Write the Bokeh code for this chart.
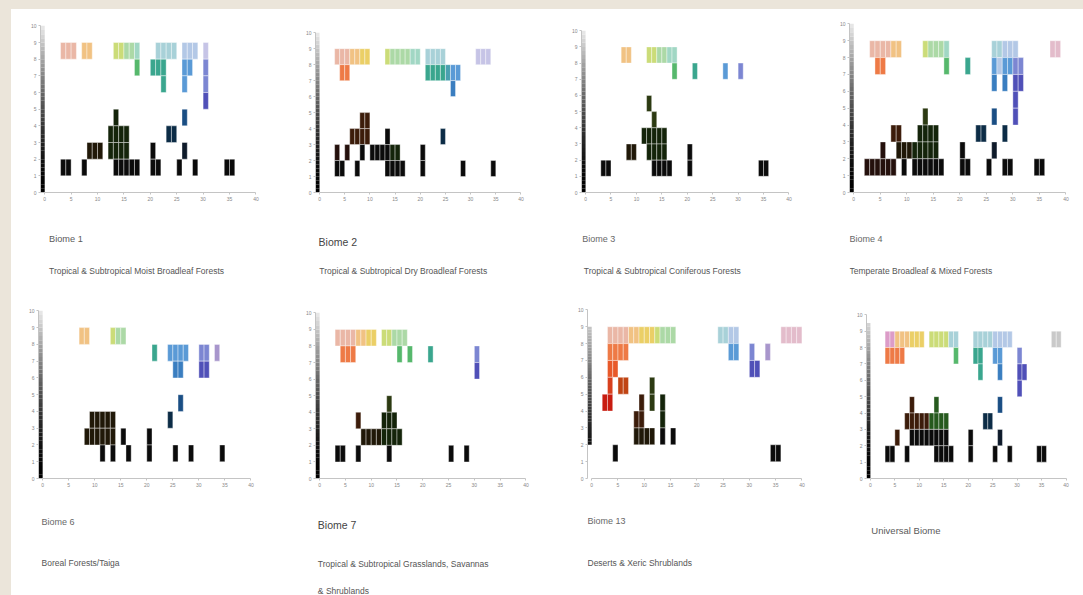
from bokeh.plotting import figure
from bokeh.models import FixedTicker, ColumnDataSource, Range1d
from bokeh.core.properties import value
from bokeh.layouts import row, column
from bokeh.embed import file_html
from bokeh.resources import INLINE

# ---------------- data ----------------
X_TICKS = [0, 5, 10, 15, 20, 25, 30, 35, 40]
Y_TICKS = [0, 1, 2, 3, 4, 5, 6, 7, 8, 9, 10]

TITLES = ["Biome 1", "Biome 2", "Biome 3", "Biome 4",
          "Biome 6", "Biome 7", "Biome 13", "Universal Biome"]
SUBTITLES = [
    ["Tropical & Subtropical Moist Broadleaf Forests"],
    ["Tropical & Subtropical Dry Broadleaf Forests"],
    ["Tropical & Subtropical Coniferous Forests"],
    ["Temperate Broadleaf & Mixed Forests"],
    ["Boreal Forests/Taiga"],
    ["Tropical & Subtropical Grasslands, Savannas", "& Shrublands"],
    ["Deserts & Xeric Shrublands"],
    [],
]

# cell runs: (row y, first column x, codes) ; '.' = empty cell
CELLS_B1 = [
    (8, 3, "aaa.bb....ddeef...gggg.hhh.i"),
    (7, 17, "m..nnn...uu..v"),
    (6, 22, "n...u...v"),
    (5, 30, "V"),
    (4, 13, "G"), (4, 26, "E"),
    (3, 12, "GGGG"), (3, 23, "DD"),
    (2, 8, "NNN.GGGG....K.....F"),
    (1, 3, "KK..K.....KKKKK..KK...K..K.....KK"),
]
CELLS_B2 = [
    (8, 3, "aaabbcc...deeeeff.gggg......iii"),
    (7, 4, "oo"), (7, 21, "nnnntuu"),
    (6, 26, "U"),
    (4, 8, "BB"),
    (3, 6, "BBBB"), (3, 13, "K"), (3, 24, "D"),
    (2, 3, "M.M..K.KKKKGG....K"),
    (1, 3, "KK..K.....KKKK...K.......K.....K"),
]
CELLS_B3 = [
    (8, 7, "bb...ddeeff"),
    (7, 17, "m...n.....u..v"),
    (5, 12, "H"),
    (4, 13, "H"),
    (3, 11, "GGGGG"),
    (2, 8, "NN..GGGG....K"),
    (1, 3, "KK"), (1, 13, "KKKK...K"), (1, 34, "KK"),
]
CELLS_B4 = [
    (8, 3, "aaaabb....deeef........gghhh......jj"),
    (7, 4, "oo"), (7, 17, "m...n....uhuuvv"),
    (6, 26, "U.U.VV"),
    (5, 30, "V"),
    (4, 13, "H"), (4, 26, "E...V"),
    (3, 7, "BB...GGGG"), (3, 23, "DD...D"),
    (2, 5, "M..NNNGGGGG....K.....F"),
    (1, 2, "MMMMMM.K.KKKKKK...KK...K..KK....KK"),
]
CELLS_B6 = [
    (8, 7, "bb....dee"),
    (7, 21, "n..uuuu..vv.w"),
    (6, 25, "UU...VV"),
    (4, 26, "E"),
    (3, 9, "NNNNN"), (3, 24, "D"),
    (2, 8, "NNNNNN"), (2, 15, "K"), (2, 20, "K"),
    (1, 11, "K.K..K...K....K..K.....K"),
]
CELLS_B7 = [
    (8, 3, "aaaabbcc.ddeee"),
    (7, 4, "ooo"), (7, 15, "m.m...n........v"),
    (6, 30, "V"),
    (4, 13, "H"),
    (3, 7, "B"), (3, 12, "GGG"),
    (2, 8, "NNNNGGGG"),
    (1, 3, "KK..K.....K"), (1, 25, "K..K"),
]
CELLS_B13 = [
    (8, 3, "aaaabbcccdeee........gghh........jjjj"),
    (7, 3, "oooo"), (7, 26, "uu..v..w"),
    (6, 3, "OO"), (6, 30, "VV"),
    (5, 3, "r.qq"), (5, 11, "H"),
    (4, 2, "RR"), (4, 9, "B.H.G"),
    (3, 8, "BB...G"),
    (2, 8, "NNNN.K.K"),
    (1, 4, "K"), (1, 34, "KK"),
]
CELLS_BU = [
    (8, 3, "llbbbccc.ddddgg...gggghhhh"), (8, 37, "kk"),
    (7, 3, "oooo"), (7, 17, "m...nn..uu...v"),
    (6, 22, "n...U...VV"),
    (5, 30, "V"),
    (4, 8, "B....Z"), (4, 26, "E"),
    (3, 7, "BBBBBZZZZ"), (3, 23, "DD"),
    (2, 5, "B..KKKKKKKK....K.....F"),
    (1, 3, "KK..K.....KKKK...K....K..K.....KK"),
]
ALL_CELLS = [CELLS_B1, CELLS_B2, CELLS_B3, CELLS_B4,
             CELLS_B6, CELLS_B7, CELLS_B13, CELLS_BU]

# grey scale strip extent on the y axis (low, high)
STRIPS = [(0, 10), (0, 10), (0, 10), (0, 10), (0, 10), (0, 10), (2, 9), (0, 9.5)]

# ---------------- styles ----------------
PALETTE = {
    'a': '#eab7a6', 'b': '#f1c283', 'c': '#ebcf66', 'd': '#cbdc78',
    'e': '#acd9a6', 'f': '#a1d7c4', 'g': '#a8d1d8', 'h': '#b3c8e6',
    'i': '#c6c4e6', 'j': '#e3bccb', 'k': '#c9c9c9', 'l': '#dc9cc8',
    'o': '#ee7a46', 'O': '#e8592a', 'r': '#d8401e', 'R': '#c81c10',
    'q': '#c04414', 'm': '#56b86c', 'n': '#3aa68e', 't': '#4aa0b0',
    'u': '#5a9ad6', 'U': '#3a7ec0', 'v': '#7c86d2', 'V': '#5050b8',
    'w': '#a896cc', 'K': '#0b0b0b', 'M': '#24100c', 'B': '#3c1c0a',
    'N': '#201808', 'G': '#14240a', 'H': '#2c3a12', 'D': '#0c2c46',
    'E': '#1a4e84', 'F': '#0e1a2a', 'Z': '#265a1e',
}

FONT = "Liberation Sans"
ROW_TOP = [9, 290]
PLOT_H = [203, 208]        # height of the chart part of each row
TEXT_H = [78, 97]          # height of the caption part of each row
# (row, page left, width, border l, border r, border t)
LAYOUT = [
    (0, 11, 279, 29, 33, 13),
    (0, 290, 270, 25, 38, 20),
    (0, 560, 268, 21, 38, 18),
    (0, 828, 255, 21, 16, 11),
    (1, 11, 279, 27, 38, 17),
    (1, 290, 270, 25, 33, 19),
    (1, 560, 275, 27, 32, 16),
    (1, 835, 248, 31, 16, 21),
]
FRAME_BOTTOM = [183, 188]  # frame bottom inside the chart part
CAPTION_SHIFT = -25        # horizontal correction of caption placement
# title (x, y, size, colour), subtitle lines (x, y) in page pixels
TITLE_POS = [(47, 238, 9.2, '#5a5a5a'), (319, 241, 10.5, '#444444'),
             (586, 238, 9, '#686868'), (853, 238, 9, '#686868'),
             (40, 521, 9, '#686868'), (318, 524, 10.5, '#444444'),
             (585, 520, 9, '#686868'), (866, 530, 9.5, '#5a5a5a')]
SUB_POS = [[(47, 270)], [(320, 270)], [(588, 270)], [(853, 270)],
           [(40, 562)], [(318, 563), (318, 590)], [(585, 562)], []]


def expand(runs):
    xs, ys, cs = [], [], []
    for y, x0, codes in runs:
        for k, ch in enumerate(codes):
            if ch != '.':
                xs.append(x0 + k)
                ys.append(y)
                cs.append(PALETTE[ch])
    return xs, ys, cs


def strip_colour(yc):
    t = max(0.0, min(1.0, yc / 10.0))
    g = int(round(235 * t ** 1.6))
    return "#%02x%02x%02x" % (g, g, g)


def make_chart(i):
    r, left, w, mbl, mbr, mbt = LAYOUT[i]
    h = PLOT_H[r]
    mbb = h - FRAME_BOTTOM[r]
    p = figure(width=w, height=h, x_range=(-0.8, 40.3), y_range=(0, 10.2),
               min_border_left=mbl, min_border_right=mbr,
               min_border_top=mbt, min_border_bottom=mbb,
               toolbar_location=None, tools="", output_backend="svg")
    p.background_fill_color = "white"
    p.border_fill_color = "white"
    p.outline_line_color = None
    p.xgrid.visible = False
    p.ygrid.visible = False

    lo, hi = STRIPS[i]
    n = 40
    edges = [lo + (hi - lo) * k / n for k in range(n + 1)]
    cols = [strip_colour((edges[k] + edges[k + 1]) / 2) for k in range(n)]
    p.quad(left=-0.8, right=0.0, bottom=edges[:-1], top=edges[1:],
           fill_color=cols, line_color=None)

    xs, ys, cs = expand(ALL_CELLS[i])
    src = ColumnDataSource(dict(l=xs, r=[x + 1 for x in xs],
                                b=ys, t=[y + 1 for y in ys], c=cs))
    p.quad(left='l', right='r', bottom='b', top='t', fill_color='c',
           source=src, line_color="white", line_alpha=0.55, line_width=0.7)

    p.xaxis.ticker = FixedTicker(ticks=X_TICKS)
    p.yaxis.ticker = FixedTicker(ticks=Y_TICKS)
    p.xaxis.bounds = (0, 40)
    p.yaxis.bounds = (0, 10)
    for ax in (p.xaxis, p.yaxis):
        ax.axis_line_color = "#c4c4c4"
        ax.major_tick_line_color = "#c4c4c4"
        ax.minor_tick_line_color = None
        ax.major_tick_out = 2
        ax.major_tick_in = 0
        ax.major_label_standoff = 2
        ax.major_label_text_font_size = "5px"
        ax.major_label_text_color = "#888888"
        ax.major_label_text_font = FONT
    return p


def make_caption(i):
    r, left, w, mbl, mbr, mbt = LAYOUT[i]
    h = TEXT_H[r]
    top = ROW_TOP[r] + PLOT_H[r]
    p = figure(width=w, height=h, x_range=Range1d(0, w), y_range=Range1d(h, 0),
               x_axis_type=None, y_axis_type=None,
               min_border=0, min_border_left=0, min_border_right=0,
               min_border_top=0, min_border_bottom=0,
               toolbar_location=None, tools="", output_backend="svg")
    p.background_fill_color = "white"
    p.border_fill_color = "white"
    p.outline_line_color = None
    p.xgrid.visible = False
    p.ygrid.visible = False
    tx, ty, ts, tc = TITLE_POS[i]
    p.text(x=[tx - left + CAPTION_SHIFT], y=[ty - top], text=[TITLES[i]],
           text_font=value(FONT), text_font_size=value(f"{ts}px"),
           text_color=tc, text_baseline="middle", text_align="left")
    if SUBTITLES[i]:
        p.text(x=[sx - left + CAPTION_SHIFT for sx, sy in SUB_POS[i]],
               y=[sy - top for sx, sy in SUB_POS[i]],
               text=SUBTITLES[i], text_font=value(FONT),
               text_font_size=value("8.5px"), text_color="#555555",
               text_baseline="middle", text_align="left")
    return p


cells = [column(make_chart(i), make_caption(i)) for i in range(8)]
grid = column(row(*cells[:4]), row(*cells[4:]), margin=(9, 0, 0, 11),
              styles={"background-color": "white"})
page = column(grid, styles={"background-color": "#ebe5da"})

open("out.html", "w").write(file_html(page, INLINE))
